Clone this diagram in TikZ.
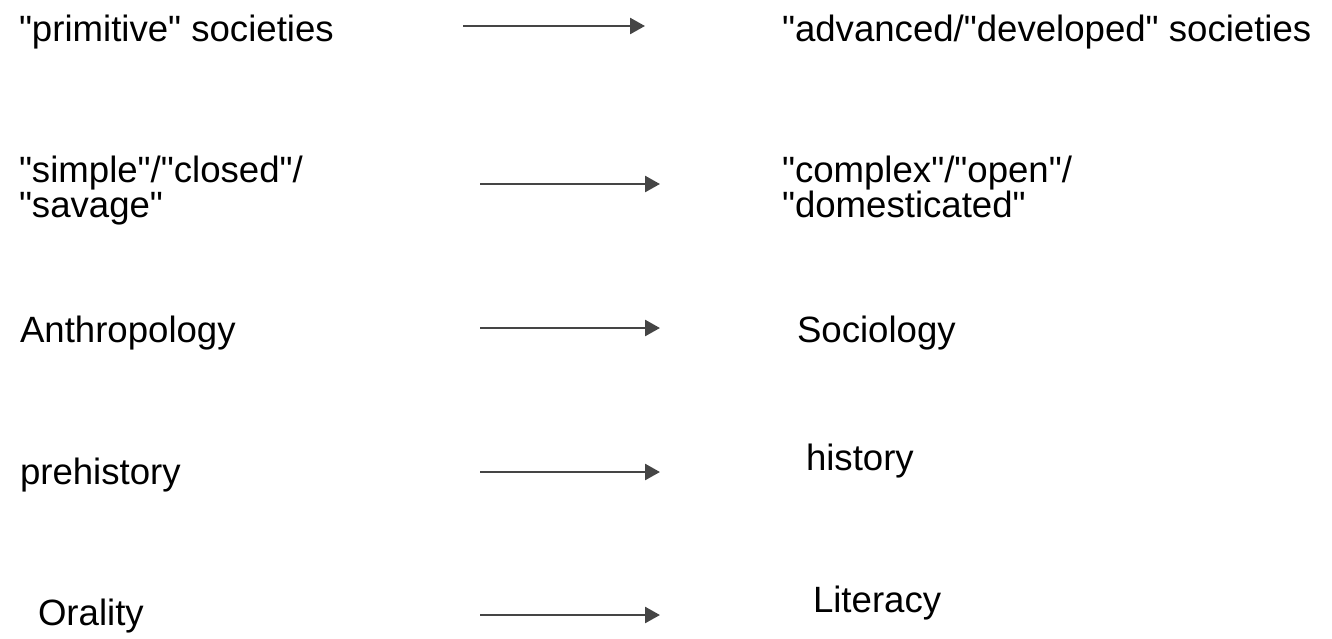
\documentclass[tikz,border=0pt]{standalone}
\usepackage{fontspec}
% TeXOff keeps " as a straight double quote
\setmainfont{Liberation Sans}[Ligatures=TeXOff]
\usetikzlibrary{arrows.meta}
\definecolor{arrowgray}{HTML}{454545}
\tikzset{
  lbl/.style={anchor=base west, inner sep=0pt, outer sep=0pt, align=left,
    font=\fontsize{36.6}{35}\selectfont, text=black},
  flow/.style={draw=arrowgray, line width=2.6pt,
    -{Triangle[length=15pt,width=16pt]}},
}
\begin{document}
\begin{tikzpicture}[x=1pt,y=-1pt]
  \useasboundingbox (0,0) rectangle (1332,638);

  % left column (two-line labels are placed by their last line)
  \node[lbl] (prim)  at (19,41)  {"primitive" societies};
  \node[lbl] (simp)  at (19,217) {"simple"/"closed"/\\"savage"};
  \node[lbl] (anth)  at (20,342) {Anthropology};
  \node[lbl] (preh)  at (20,484) {prehistory};
  \node[lbl] (oral)  at (38,625) {Orality};

  % right column
  \node[lbl] (adv)   at (782,41)  {"advanced/"developed" societies};
  \node[lbl] (comp)  at (782,217) {"complex"/"open"/\\"domesticated"};
  \node[lbl] (soc)   at (797,342) {Sociology};
  \node[lbl] (hist)  at (806,470) {history};
  \node[lbl] (lit)   at (813,612) {Literacy};

  % arrow end points
  \coordinate (a1s) at (463,26);  \coordinate (a1e) at (645,26);
  \coordinate (a2s) at (480,184); \coordinate (a2e) at (660,184);
  \coordinate (a3s) at (480,328); \coordinate (a3e) at (660,328);
  \coordinate (a4s) at (480,472); \coordinate (a4e) at (660,472);
  \coordinate (a5s) at (480,615); \coordinate (a5e) at (660,615);

  \draw[flow] (a1s) -- (a1e);
  \draw[flow] (a2s) -- (a2e);
  \draw[flow] (a3s) -- (a3e);
  \draw[flow] (a4s) -- (a4e);
  \draw[flow] (a5s) -- (a5e);
\end{tikzpicture}
\end{document}
